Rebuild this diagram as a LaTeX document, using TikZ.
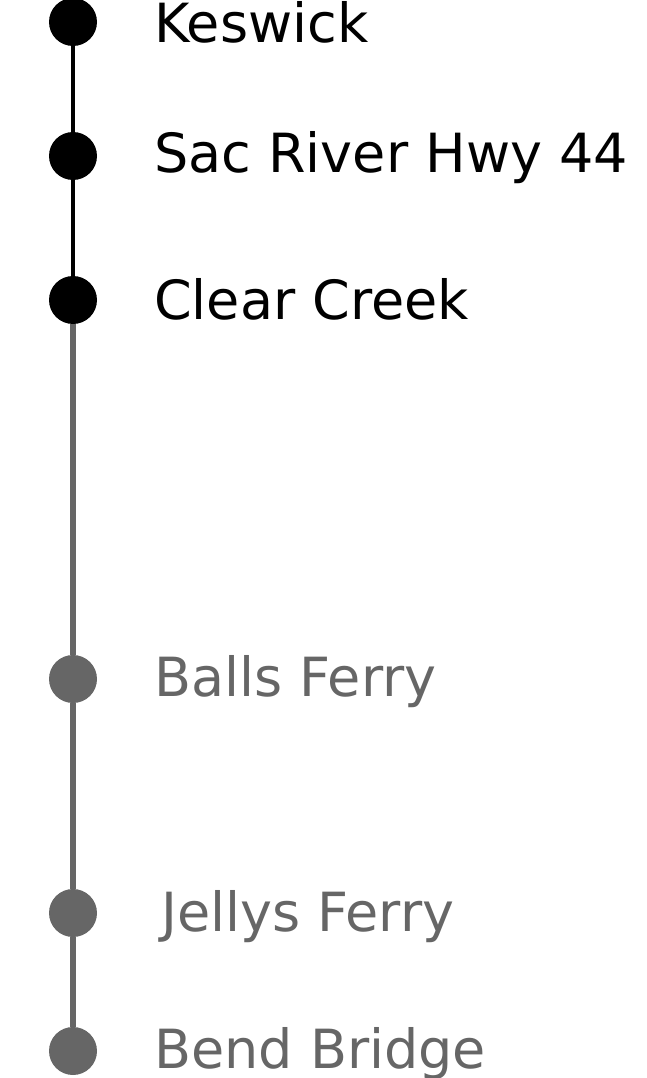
\documentclass[tikz,border=0pt]{standalone}
\usepackage{fontspec}
\setmainfont{DejaVu Sans}
\usepackage{tikz}
\usetikzlibrary{positioning}
\definecolor{stopgray}{HTML}{666666}

\begin{document}
\begin{tikzpicture}[
  x=1pt, y=-1pt,
  stop/.style={circle, fill, inner sep=0pt, minimum size=48pt},
  lbl/.style={anchor=base west, inner sep=0pt,
              font=\fontsize{54}{65}\selectfont},
  seg/.style={line width=#1}
]
  \useasboundingbox (0,0) rectangle (647,1078);

  \node[stop] (kes)   at (73,22)   {};
  \node[stop] (sac)   at (73,156)  {};
  \node[stop] (clear) at (73,300)  {};
  \node[stop, stopgray] (balls) at (73,679)  {};
  \node[stop, stopgray] (jelly) at (73,913)  {};
  \node[stop, stopgray] (bend)  at (73,1051) {};

  \node[lbl] (kes-l)   at (154,43)   {Keswick};
  \node[lbl] (sac-l)   at (154,173)  {Sac River Hwy 44};
  \node[lbl] (clear-l) at (154,319)  {Clear Creek};
  \node[lbl, stopgray] (balls-l) at (154,696)  {Balls Ferry};
  \node[lbl, stopgray] (jelly-l) at (161,931)  {Jellys Ferry};
  \node[lbl, stopgray] (bend-l)  at (154,1068) {Bend Bridge};

  \draw[seg=4pt] (kes) -- (sac);
  \draw[seg=4pt] (sac) -- (clear);
  \draw[seg=6pt, stopgray] (clear) -- (balls);
  \draw[seg=6pt, stopgray] (balls) -- (jelly);
  \draw[seg=6pt, stopgray] (jelly) -- (bend);
\end{tikzpicture}
\end{document}
